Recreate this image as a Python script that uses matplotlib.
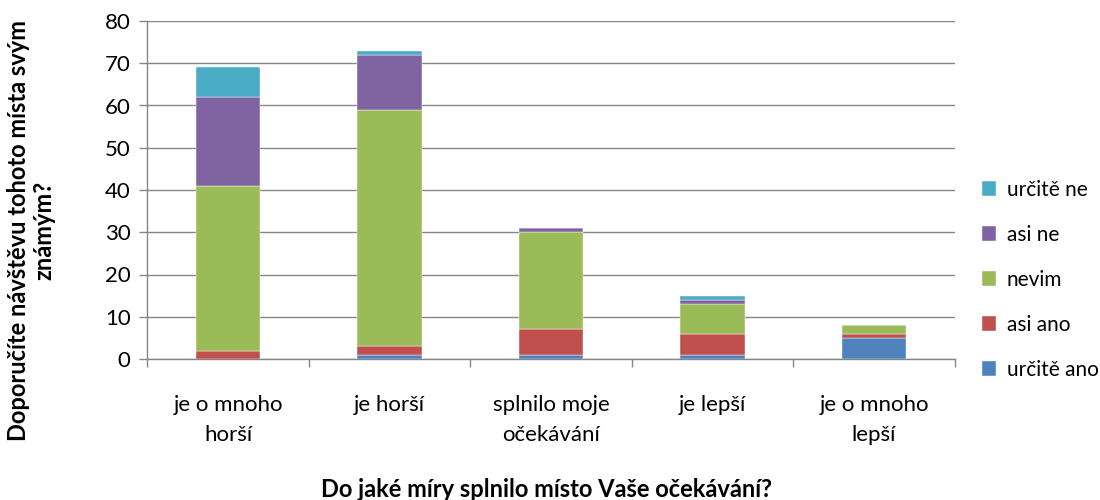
import matplotlib.pyplot as plt
import numpy as np

plt.rcParams["font.family"] = ["Lato", "DejaVu Sans"]

categories = ["je o mnoho\nhorší", "je horší", "splnilo moje\nočekávání", "je lepší", "je o mnoho\nlepší"]
series_names = ["určitě ano", "asi ano", "nevim", "asi ne", "určitě ne"]
urcite_ano = [0, 1, 1, 1, 5]
asi_ano = [2, 2, 6, 5, 1]
nevim = [39, 56, 23, 7, 2]
asi_ne = [21, 13, 1, 1, 0]
urcite_ne = [7, 1, 0, 1, 0]
colors = ["#4F81BD", "#C0504D", "#9BBB59", "#8064A2", "#4BACC6"]

values = [urcite_ano, asi_ano, nevim, asi_ne, urcite_ne]

fig = plt.figure(figsize=(11, 5), dpi=100)
ax = fig.add_axes([0.134, 0.282, 0.734, 0.676])

x = np.arange(len(categories))
bottom = np.zeros(len(categories))
handles = []
for name, vals, c in zip(series_names, values, colors):
    b = ax.bar(x, vals, width=0.4, bottom=bottom, color=c, label=name,
               edgecolor="white", linewidth=0.3, zorder=3)
    handles.append(b)
    bottom += np.array(vals)

ax.set_xlim(-0.5, len(categories) - 0.5)
ax.set_ylim(0, 80)
ax.set_yticks(range(0, 81, 10))
ax.grid(axis="y", color="#868686", linewidth=1, zorder=0)
ax.set_xticks(x)
ax.set_xticklabels(categories, fontsize=16, linespacing=1.6)
ax.tick_params(axis="x", length=0, pad=26)
ax.set_xticks(np.arange(-0.5, len(categories)), minor=True)
ax.tick_params(axis="x", which="minor", length=6, color="#868686", width=1)
ax.tick_params(axis="y", labelsize=16, length=6, color="#868686", width=1, pad=6)
for s in ["top", "right"]:
    ax.spines[s].set_visible(False)
for s in ["left", "bottom"]:
    ax.spines[s].set_color("#868686")
    ax.spines[s].set_linewidth(1)

ax.set_xlabel("Do jaké míry splnilo místo Vaše očekávání?", fontsize=17,
              fontweight="bold")
ax.xaxis.set_label_coords(0.494, -0.352)
ax.set_ylabel("Doporučíte návštěvu tohoto místa svým\nznámým?", fontsize=17,
              fontweight="bold", linespacing=1.15)
ax.yaxis.set_label_coords(-0.114, 0.38)

ax.legend(handles[::-1], series_names[::-1], loc="center left",
          bbox_to_anchor=(1.01, 0.235), frameon=False, fontsize=15,
          handlelength=0.7, handleheight=0.7, labelspacing=1.2, handletextpad=0.5)

fig.savefig("out.png", dpi=100)
